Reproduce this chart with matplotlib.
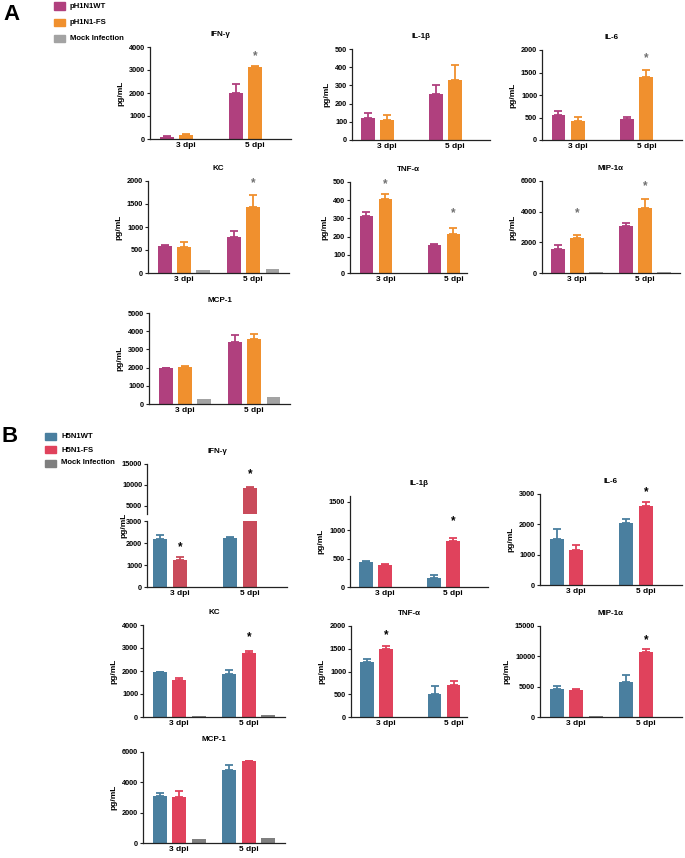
import numpy as np
import matplotlib
matplotlib.use("Agg")
import matplotlib.pyplot as plt
from matplotlib.patches import Rectangle

plt.rcParams['font.family'] = ['Liberation Sans', 'DejaVu Sans']
plt.rcParams['font.weight'] = 'bold'
plt.rcParams['axes.titleweight'] = 'bold'
plt.rcParams['axes.labelweight'] = 'bold'

groups = ["3 dpi", "5 dpi"]
cytokines = ["IFN-γ", "IL-1β", "IL-6", "KC", "TNF-α", "MIP-1α", "MCP-1"]

# panel A (pH1N1), each entry = [3 dpi, 5 dpi]
a_names = ["pH1N1WT", "pH1N1-FS", "Mock Infection"]
a_wt = [[90, 1980], [122, 253], [556, 467], [577, 774], [313, 152], [1577, 3066], [1960, 3388]]
a_wt_err = [[20, 400], [28, 50], [90, 45], [30, 145], [20, 5], [260, 220], [20, 385]]
a_fs = [[190, 3130], [108, 331], [422, 1407], [555, 1438], [405, 212], [2277, 4270], [2015, 3590]]
a_fs_err = [[20, 30], [29, 80], [95, 155], [110, 262], [27, 37], [200, 570], [70, 256]]
a_mock = [[0, 0], [0, 0], [8, 0], [58, 90], [0, 0], [80, 40], [260, 360]]
a_ymax = [4000, 500, 2000, 2000, 500, 6000, 5000]
a_ystep = [1000, 100, 500, 500, 100, 2000, 1000]
a_stars = [[None, 3600], [None, None], [None, 1820], [None, 1960], [490, 330], [3900, 5650], [None, None]]

# panel B (H5N1)
b_names = ["H5N1WT", "H5N1-FS", "Mock Infection"]
b_wt = [[2186, 2216], [434, 164], [1517, 2060], [1949, 1862], [1204, 511], [4688, 5790], [3121, 4835]]
b_wt_err = [[180, 60], [30, 53], [320, 110], [20, 200], [60, 168], [390, 1100], [176, 286]]
b_fs = [[1206, 9300], [387, 815], [1163, 2613], [1600, 2764], [1504, 708], [4522, 10643], [3033, 5385]]
b_fs_err = [[135, 100], [23, 47], [144, 133], [100, 116], [58, 80], [160, 500], [374, 30]]
b_mock = [[0, 0], [0, 0], [15, 0], [60, 90], [0, 0], [100, 50], [260, 360]]
b_ymax = [15000, 1600, 3000, 4000, 2000, 15000, 6000]
b_ystep = [5000, 500, 1000, 1000, 500, 5000, 2000]
b_stars = [[1800, 12500], [None, 1150], [None, 3050], [None, 3480], [1790, None], [None, 12600], [None, None]]
ifn_break = [3000, 15000]   # IFN-γ (B) upper segment of the broken axis

a_colors = ["#b0407e", "#f0902e", "#a3a3a3"]
b_colors = ["#4a7f9f", "#e0425c", "#7f7f7f"]

W, H = 685, 858
fig = plt.figure(figsize=(W / 100, H / 100), dpi=100)


def box(l, r, t, b):
    return [l / W, 1 - b / H, (r - l) / W, (b - t) / H]


# axes boxes in pixels (left, right, top, bottom)
a_boxes = [(150, 291, 47, 139), (352, 490, 49, 140), (542, 682, 50, 140),
           (148, 289, 181, 273), (350, 467, 182, 273), (542, 680, 181, 273),
           (149, 290, 313, 404)]
b_boxes = [(147, 287, 464, 587), (350, 488, 496, 587), (540, 682, 494, 585),
           (143, 285, 625, 717), (351, 467, 626, 717), (540, 682, 626, 717),
           (143, 285, 752, 843)]


def style(ax, xlim):
    for s in ['top', 'right']:
        ax.spines[s].set_visible(False)
    for s in ['left', 'bottom']:
        ax.spines[s].set_linewidth(0.9)
        ax.spines[s].set_color('#222222')
    ax.set_xlim(*xlim)
    ax.set_xticks([0, 1])
    ax.set_xticklabels(groups)
    ax.tick_params(axis='x', length=0, labelsize=6, pad=2)
    ax.tick_params(axis='y', length=2.5, width=0.8, labelsize=5.3, pad=1, color='#222222')


def bars(ax, wt, wt_err, fs, fs_err, mock, colors):
    x = np.arange(2)
    sets = [(-0.28, wt, wt_err, colors[0]), (0.0, fs, fs_err, colors[1]), (0.28, mock, None, colors[2])]
    for off, vals, errs, col in sets:
        ax.bar(x + off, vals, width=0.2, color=col, zorder=2)
        if errs is not None:
            ax.errorbar(x + off, vals, yerr=[np.zeros(2), errs], fmt='none', ecolor=col,
                        elinewidth=1.3, capsize=3, capthick=1.3, zorder=1)


def stars(ax, ys, color):
    for i, y in enumerate(ys):
        if y is not None:
            ax.text(i, y, "*", ha='center', va='center', fontsize=8.5, color=color, clip_on=False)


def panel(boxes, wt, wt_err, fs, fs_err, mock, ymax, ystep, star_y, colors, star_color, skip=()):
    for k in range(len(cytokines)):
        if k in skip:
            continue
        ax = fig.add_axes(box(*boxes[k]))
        xlim = (-0.52, 1.2) if k == 4 else (-0.52, 1.52)
        style(ax, xlim)
        bars(ax, wt[k], wt_err[k], fs[k], fs_err[k], mock[k], colors)
        ax.set_ylim(0, ymax[k])
        ax.set_yticks(np.arange(0, ymax[k] + 1, ystep[k]))
        ax.set_title(cytokines[k], fontsize=5.8, pad=8)
        ax.set_ylabel("pg/mL", fontsize=6, labelpad=3)
        stars(ax, star_y[k], star_color)


panel(a_boxes, a_wt, a_wt_err, a_fs, a_fs_err, a_mock, a_ymax, a_ystep, a_stars, a_colors, '#707070')
panel(b_boxes, b_wt, b_wt_err, b_fs, b_fs_err, b_mock, b_ymax, b_ystep, b_stars, b_colors, 'black', skip=(0,))

# IFN-γ in panel B with a broken y axis
ifn_red = "#c94b5b"
l, r, t, b = b_boxes[0]
ax_up = fig.add_axes(box(l, r, t, 514))
ax_lo = fig.add_axes(box(l, r, 521, b))
for ax in (ax_up, ax_lo):
    style(ax, (-0.47, 1.53))
    bars(ax, b_wt[0], b_wt_err[0], b_fs[0], b_fs_err[0], b_mock[0], [b_colors[0], ifn_red, b_colors[2]])
ax_up.set_ylim(*ifn_break)
ax_up.set_yticks([5000, 10000, 15000])
ax_up.spines['bottom'].set_visible(False)
ax_up.tick_params(axis='x', labelbottom=False)
ax_up.set_title(cytokines[0], fontsize=5.8, pad=8)
ax_lo.set_ylim(0, ifn_break[0])
ax_lo.set_yticks([0, 1000, 2000, 3000])
ax_lo.text(0, b_stars[0][0], "*", ha='center', va='center', fontsize=8.5, color='black')
ax_up.text(1, b_stars[0][1], "*", ha='center', va='center', fontsize=8.5, color='black', clip_on=False)
fig.text(124 / W, 1 - 525 / H, "pg/mL", rotation=90, ha='center', va='center', fontsize=6)

# legends
def legend(x_sq, x_txt, ys, names, colors):
    for y, name, col in zip(ys, names, colors):
        fig.add_artist(Rectangle((x_sq / W, 1 - (y + 3.5) / H), 11 / W, 7 / H,
                                 transform=fig.transFigure, color=col))
        fig.text(x_txt / W, 1 - y / H, name, ha='left', va='center', fontsize=5.6)


legend(54, 70, [6, 22, 38], a_names, a_colors)
legend(45, 61, [437, 450, 463], b_names, b_colors)

fig.text(11 / W, 1 - 15 / H, "A", ha='center', va='center', fontsize=16)
fig.text(10 / W, 1 - 437 / H, "B", ha='center', va='center', fontsize=16)

fig.savefig("out.png", dpi=100)
